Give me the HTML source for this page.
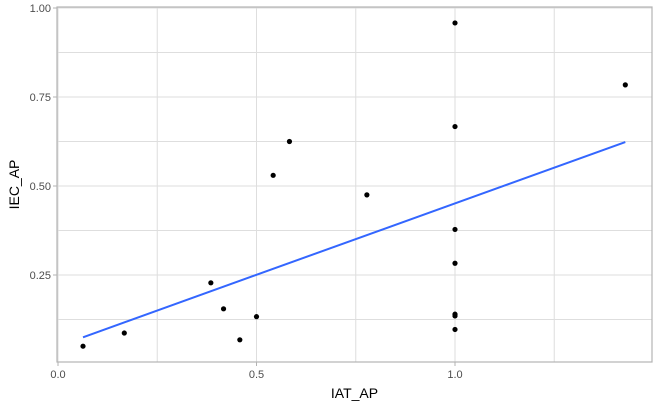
<!DOCTYPE html>
<html><head><meta charset="utf-8"><style>
body{margin:0;background:#fff;font-family:"Liberation Sans",sans-serif;}
svg text{font-family:"Liberation Sans",sans-serif;}
</style></head><body>
<svg id="c" width="660" height="407"></svg>
<script>
const xs=[0.063,0.167,0.385,0.417,0.458,0.5,0.542,0.583,0.778,1,1,1,1,1,1,1,1.429];
const ys=[0.05,0.087,0.228,0.155,0.068,0.133,0.53,0.625,0.475,0.958,0.667,0.378,0.283,0.14,0.135,0.097,0.784];
const xTicks=[0,0.5,1.0];
const xTickLabels=["0.0","0.5","1.0"];
const yTicks=[0.25,0.5,0.75,1.0];
const yTickLabels=["0.25","0.50","0.75","1.00"];
const NS="http://www.w3.org/2000/svg";
const svg=document.getElementById('c');
const L=57,R=652,T=7,B=362;
const X=v=>58+v*397, Y=v=>364-v*356;
function el(t,a,p){const e=document.createElementNS(NS,t);for(const k in a)e.setAttribute(k,a[k]);(p||svg).appendChild(e);return e;}
const g=el('g',{});


for(let v=0;v<=1.5;v+=0.25){const x=X(v);if(x>L&&x<R){const l=el('line',{x1:x,x2:x,y1:T,y2:B,stroke:'#dedede','stroke-width':1},g);}}
for(let v=0.125;v<=1.0001;v+=0.125){const y=Y(v);const l=el('line',{x1:L,x2:R,y1:y,y2:y,stroke:'#dedede','stroke-width':1},g);}
const bd=el('rect',{x:L,y:T,width:R-L,height:B-T,fill:'none',stroke:'#b3b3b3','stroke-width':1.2});


xTicks.forEach((v,i)=>{const x=X(v);const t=el('line',{x1:x,x2:x,y1:B,y2:B+4,stroke:'#b3b3b3'});
const tx=el('text',{x:x,y:B+16,'text-anchor':'middle','font-size':11,fill:'#4d4d4d'});tx.textContent=xTickLabels[i];});
yTicks.forEach((v,i)=>{const y=Y(v);const t=el('line',{x1:L-4,x2:L,y1:y,y2:y,stroke:'#b3b3b3'});
const tx=el('text',{x:L-6,y:y+4,'text-anchor':'end','font-size':11,fill:'#4d4d4d'});tx.textContent=yTickLabels[i];});
// regression
const n=xs.length,mx=xs.reduce((a,b)=>a+b)/n,my=ys.reduce((a,b)=>a+b)/n;
let sxy=0,sxx=0;for(let i=0;i<n;i++){sxy+=(xs[i]-mx)*(ys[i]-my);sxx+=(xs[i]-mx)**2;}
const b1=sxy/sxx,b0=my-b1*mx,x0=Math.min(...xs),x1=Math.max(...xs);
const ln=el('line',{x1:X(x0),y1:Y(b0+b1*x0),x2:X(x1),y2:Y(b0+b1*x1),stroke:'#3366ff','stroke-width':2});


xs.forEach((v,i)=>{const c=el('circle',{cx:X(v),cy:Y(ys[i]),r:2.6,fill:'#000'});});
const xt=el('text',{x:(L+R)/2,y:398,'text-anchor':'middle','font-size':14,fill:'#000'});xt.textContent='IAT_AP';


const yt=el('text',{x:0,y:0,'text-anchor':'middle','font-size':14,fill:'#000',transform:`translate(19,${(T+B)/2}) rotate(-90)`});yt.textContent='IEC_AP';


</script>
</body></html>
